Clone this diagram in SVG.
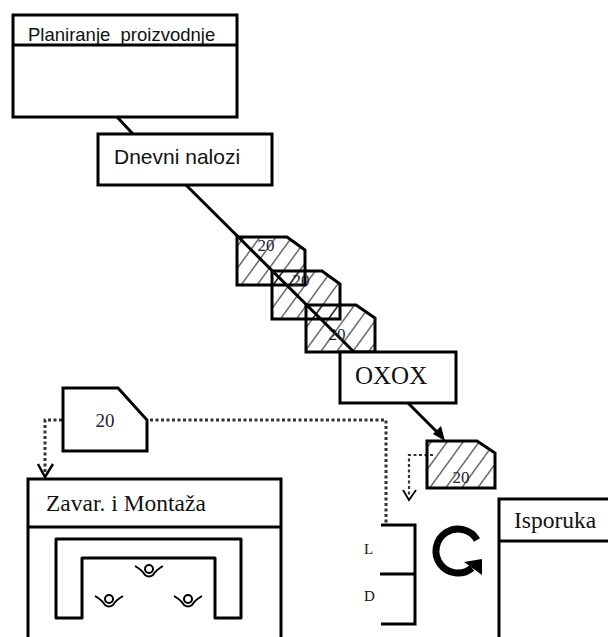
<svg xmlns="http://www.w3.org/2000/svg" width="608" height="637" viewBox="0 0 608 637">
<style>
.box{fill:#fff;stroke:#000;stroke-width:3}
.ln{fill:none;stroke:#000;stroke-width:3}
.hat{fill:url(#hatch);stroke:#000;stroke-width:3}
.dot{fill:none;stroke:#333;stroke-width:3;stroke-dasharray:3 2.5}
.sans{font-family:"Liberation Sans",Arial,sans-serif;fill:#111}
.serif{font-family:"Liberation Serif","Times New Roman",serif;fill:#111}
.num{font-family:"Liberation Serif","Times New Roman",serif;font-size:17px;fill:#223;text-anchor:middle}
.eye{fill:none;stroke:#000;stroke-width:2}
</style>
<defs>
<pattern id="hatch" patternUnits="userSpaceOnUse" width="16" height="20" patternTransform="translate(237 237) skewX(-36)">
<line x1="7" y1="0" x2="7" y2="20" stroke="#000" stroke-width="1.1"/>
</pattern>
<g id="eyeShape">
<path class="eye" d="M-14-5Q-7-1-4 4Q0 7 4 4Q7-1 14-5"/>
<circle class="eye" cx="0" cy="-2" r="4"/>
</g>
</defs>

<g id="connectors">
<path class="ln" d="M117 117L133 134"/>
<path class="ln" d="M186 185L355 353"/>
<path class="ln" d="M408 403L441 436"/>
<path d="M445 441L433 434L441 426Z" fill="#000"/>
<path class="dot" d="M62 420H45V474"/>
<path class="ln" d="M38 464L45 477L53 464" style="stroke-width:2.4"/>
<path class="dot" d="M150 420H386V526"/>
<path class="dot" style="stroke-width:2.2" d="M433 455H409V496"/>
<path class="ln" d="M403 490L409 500L416 490" style="stroke-width:1.8"/>
</g>

<g id="planiranje">
<rect class="box" x="13" y="15" width="224" height="102"/>
<line class="ln" x1="13" y1="45" x2="237" y2="45"/>
<text class="sans" x="28" y="41" font-size="18.5" xml:space="preserve">Planiranje  proizvodnje</text>
</g>
<g id="dnevni">
<rect class="box" x="98" y="134" width="174" height="51"/>
<text class="sans" x="114" y="164" font-size="21">Dnevni nalozi</text>
</g>
<g id="inv1">
<path class="hat" d="M237 237H287L305 250V285H237Z"/>
<text class="num" x="266" y="251">20</text>
</g>
<g id="inv2">
<path class="hat" d="M272 271H322L340 284V319H272Z"/>
<text class="num" x="301" y="286">20</text>
</g>
<g id="inv3">
<path class="hat" d="M306 305H356L375 318V352H306Z"/>
<text class="num" x="337" y="340">20</text>
</g>
<g id="oxox">
<rect class="box" x="340" y="352" width="116" height="51"/>
<text class="serif" x="355" y="384" font-size="25">OXOX</text>
</g>
<g id="inv4">
<path class="hat" d="M427 441H477L495 453V488H427Z"/>
<text class="num" x="461" y="483">20</text>
</g>
<g id="kanban">
<path class="box" d="M63 388H118L147 420V451H63Z"/>
<text class="num" x="105" y="427" style="font-size:19px">20</text>
</g>
<g id="zavar">
<rect class="box" x="28" y="479" width="253" height="170"/>
<line class="ln" x1="28" y1="527" x2="281" y2="527"/>
<text class="serif" x="46" y="511" font-size="23.5">Zavar. i Montaža</text>
<path class="ln" stroke-linejoin="round" d="M56 539H241V618H215V558H82V618H56Z"/>
<use href="#eyeShape" x="149" y="571"/>
<use href="#eyeShape" x="109" y="601"/>
<use href="#eyeShape" x="188" y="601"/>
</g>
<g id="bracket">
<path class="ln" d="M381 525H415V624H381M380 574H415"/>
<text class="serif" x="364" y="554" font-size="15">L</text>
<text class="serif" x="364" y="601" font-size="15">D</text>
</g>
<g id="cycle">
<path fill="none" stroke="#000" stroke-width="7" d="M477 540A22 22 0 1 0 472 568"/>
<path d="M482 559V575L464 562Z" fill="#000"/>
</g>
<g id="isporuka">
<path class="ln" d="M610 499H499V640M499 541H610"/>
<text class="serif" x="514" y="528" font-size="23.5">Isporuka</text>
</g>
</svg>
